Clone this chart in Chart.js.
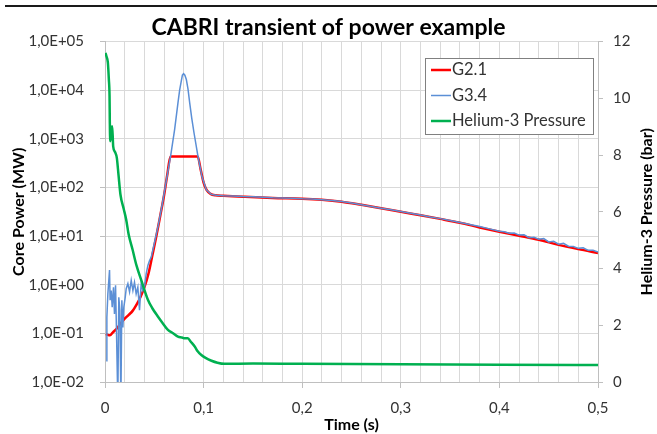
<!DOCTYPE html>
<html>
<head>
<meta charset="utf-8">
<title>CABRI transient of power example</title>
<script src="https://cdn.jsdelivr.net/npm/chart.js@4.4.0/dist/chart.umd.min.js"></script>
<style>
  body { margin: 0; background: #fff; }
  #wrap { position: relative; width: 657px; height: 434px; }
  #topLine { position: absolute; left: 5px; top: 5px; width: 652px; height: 2px; background: #1a1a1a; }
</style>
</head>
<body>
<div id="wrap">
  <canvas id="cabriChart" width="657" height="434"></canvas>
  <div id="topLine"></div>
</div>
<script>
// Values

// G2.1 core power (MW) vs time (s)
const timeG21 = [0.001, 0.003, 0.005, 0.008, 0.012, 0.016, 0.02, 0.024, 0.028, 0.032, 0.036, 0.04,
  0.044, 0.048, 0.052, 0.056, 0.06, 0.063, 0.0665, 0.094, 0.097, 0.1, 0.103, 0.107, 0.112, 0.12,
  0.14, 0.17, 0.2, 0.22, 0.24, 0.26, 0.28, 0.3, 0.32, 0.34, 0.36, 0.38, 0.4, 0.42, 0.44, 0.46, 0.48, 0.5];
const powerG21 = [0.098, 0.093, 0.091, 0.105, 0.126, 0.162, 0.2, 0.24, 0.29, 0.39, 0.56, 0.89,
  1.66, 4.0, 9.8, 26, 71, 174, 436, 436, 234, 126, 89, 74, 69, 67.6,
  64.6, 61, 59, 56, 51, 44, 37.5, 31.6, 26.9, 22.6, 18.8, 15.1, 12.3, 10.2, 8.4, 6.6, 5.4, 4.5];

// G3.4 core power (MW) vs time (s)
const timeG34 = [0.0012, 0.0019, 0.0029, 0.0046, 0.0052, 0.0063, 0.0073, 0.0086, 0.0096, 0.0107,
  0.0117, 0.013, 0.014, 0.0151, 0.0161, 0.0171, 0.0181, 0.0191, 0.0205, 0.0215, 0.0232, 0.0249,
  0.0266, 0.0283, 0.0299, 0.0316, 0.0333, 0.035, 0.0367, 0.0384, 0.0401, 0.0418, 0.0435, 0.0452,
  0.0469, 0.05, 0.054, 0.058, 0.062, 0.0665, 0.0706, 0.074, 0.0757, 0.0774, 0.0785, 0.0797, 0.081,
  0.0825, 0.0842, 0.0859, 0.088, 0.0903, 0.0943, 0.0984, 0.1028, 0.1078, 0.113, 0.12, 0.13, 0.14,
  0.15, 0.16, 0.17, 0.18, 0.19, 0.2, 0.21, 0.22, 0.23, 0.24, 0.25, 0.26, 0.27, 0.28, 0.29, 0.3,
  0.31, 0.32, 0.33, 0.34, 0.35, 0.36, 0.37, 0.38, 0.39, 0.4, 0.405, 0.41, 0.415, 0.42, 0.425,
  0.43, 0.435, 0.44, 0.445, 0.45, 0.455, 0.46, 0.465, 0.47, 0.475, 0.48, 0.485, 0.49, 0.495, 0.5];
const powerG34 = [0.0275, 0.214, 0.646, 2.0, 0.479, 0.759, 0.347, 0.891, 0.251, 0.977,
  0.098, 0.004, 0.55, 0.295, 0.004, 0.479, 0.132, 0.347, 0.55, 0.83, 1.05, 0.71,
  1.23, 0.76, 1.12, 0.65, 0.89, 0.3, 1.05, 0.76, 0.89, 1.7, 2.5, 3.16,
  3.7, 7.1, 16.6, 44.7, 132, 437, 1550, 5500, 10000, 15500, 20400, 21900, 20400,
  16600, 10500, 5500, 2630, 1320, 437, 166, 89, 72, 69, 67.6, 66.8, 65.3,
  64.6, 63.1, 61.7, 61.0, 60.3, 58.9, 58.2, 56.2, 53.7, 51.3, 47.9, 44.2, 40.7, 37.6, 34.7, 32.0,
  29.5, 27.2, 24.8, 22.9, 20.9, 19.1, 17.4, 15.7, 14.1, 12.6, 12.3, 11.5, 11.6, 10.5, 10.7,
  9.3, 9.5, 8.6, 8.9, 7.6, 7.8, 6.8, 7.1, 6.2, 6.1, 5.6, 5.75, 5.1, 5.1, 4.7];

// Helium-3 pressure (bar) vs time (s)
const timeHe = [0.0005, 0.0013, 0.0029, 0.0039, 0.0046, 0.0049, 0.0053, 0.0063, 0.0073, 0.0083,
  0.0103, 0.012, 0.0137, 0.0157, 0.019, 0.0215, 0.024, 0.028, 0.032, 0.0367, 0.0435, 0.048,
  0.0536, 0.058, 0.0638, 0.069, 0.074, 0.078, 0.0807, 0.084, 0.087, 0.091, 0.094, 0.0977, 0.102,
  0.108, 0.114, 0.121, 0.15, 0.2, 0.3, 0.4, 0.5];
const pressureHe = [11.6, 11.5, 11.26, 10.67, 10.08, 9.14, 8.49, 8.79, 9.02, 8.31,
  8.1, 7.9, 7.3, 6.6, 6.1, 5.72, 5.2, 4.66, 4.1, 3.6, 2.9, 2.6,
  2.31, 2.1, 1.84, 1.72, 1.6, 1.57, 1.54, 1.54, 1.42, 1.25, 1.08, 0.95, 0.85,
  0.75, 0.68, 0.64, 0.65, 0.64, 0.63, 0.61, 0.6];

// Axis ticks
const powerTicks = [0.01, 0.1, 1, 10, 100, 1000, 10000, 100000];
const pressureTicks = [0, 2, 4, 6, 8, 10, 12];

const toPoints = (xs, ys) => xs.map((x, i) => ({ x: x, y: ys[i] }));

const fontName = "Lato";
const textColor = "#333333";
const gridColor = "#d9d9d9";
const axisColor = "#bfbfbf";

//Legend in a framed box and the right axis title written bottom-to-top, like the Excel chart
const excelExtras = {
  id: "excelExtras",
  afterDraw(chart) {
    const ctx = chart.ctx;
    const area = chart.chartArea;
    const boxW = 168, boxH = 76;
    const x0 = Math.round(area.right - 5 - boxW), y0 = Math.round(area.top + 16);

    ctx.save();
    ctx.fillStyle = "#ffffff";
    ctx.fillRect(x0, y0, boxW, boxH);
    ctx.strokeStyle = "#808080";
    ctx.lineWidth = 1;
    ctx.strokeRect(x0 + 0.5, y0 + 0.5, boxW, boxH);

    ctx.font = "16.5px " + fontName;
    ctx.textBaseline = "middle";
    ctx.textAlign = "left";
    chart.data.datasets.forEach((ds, i) => {
      const y = y0 + 12 + i * 25.5;
      ctx.strokeStyle = ds.borderColor;
      ctx.lineWidth = ds.borderWidth;
      ctx.beginPath();
      ctx.moveTo(x0 + 6, y);
      ctx.lineTo(x0 + 26, y);
      ctx.stroke();
      ctx.fillStyle = textColor;
      ctx.fillText(ds.label, x0 + 27, y);
    });

    const right = chart.scales.y2;
    ctx.translate(right.right - 10.5, (area.top + area.bottom) / 2);
    ctx.rotate(-Math.PI / 2);
    ctx.font = "bold 16px " + fontName;
    ctx.textAlign = "center";
    ctx.fillStyle = "#000000";
    ctx.fillText("Helium-3 Pressure (bar)", 0, 0);
    ctx.restore();
  }
};

new Chart("cabriChart", {
  type: "line",
  data: {
    datasets: [
      {
        label: "G2.1",
        data: toPoints(timeG21, powerG21),
        borderColor: "#ff0000",
        borderWidth: 2.5,
        yAxisID: "y",
        cubicInterpolationMode: "monotone",
        order: 3,
      },
      {
        label: "G3.4",
        data: toPoints(timeG34, powerG34),
        borderColor: "#5b8fd6",
        borderWidth: 1.5,
        yAxisID: "y",
        tension: 0,
        order: 2,
      },
      {
        label: "Helium-3 Pressure",
        data: toPoints(timeHe, pressureHe),
        borderColor: "#00b050",
        borderWidth: 2.5,
        yAxisID: "y2",
        cubicInterpolationMode: "monotone",
        order: 1,
      },
    ],
  },
  options: {
    responsive: false,
    animation: false,
    elements: {
      point: { radius: 0 },
    },
    plugins: {
      legend: { display: false },
      tooltip: { enabled: false },
      title: {
        display: true,
        text: "CABRI transient of power example",
        color: "#000000",
        font: { family: fontName, size: 23, weight: "bold" },
        padding: { top: 14, bottom: 0 },
      },
    },
    scales: {
      x: {
        type: "linear",
        min: 0,
        max: 0.5,
        afterFit: (scale) => { scale.height = 52; },
        ticks: {
          stepSize: 0.02,
          autoSkip: false,
          maxRotation: 0,
          padding: 11,
          color: textColor,
          font: { family: fontName, size: 15 },
          callback: (v) => {
            const hundredths = Math.round(v * 100);
            if (hundredths % 10 !== 0) return "";
            return hundredths === 0 ? "0" : (hundredths / 100).toFixed(1).replace(".", ",");
          },
        },
        grid: {
          color: gridColor,
          tickLength: 6,
          tickColor: (c) => (Math.round(c.tick.value * 100) % 10 === 0 ? axisColor : "rgba(0,0,0,0)"),
        },
        border: { color: axisColor },
        title: {
          display: true,
          text: "Time (s)",
          color: "#000000",
          font: { family: fontName, size: 16, weight: "bold" },
          padding: { top: 0, bottom: 0 },
        },
      },
      y: {
        type: "logarithmic",
        position: "left",
        min: powerTicks[0],
        max: powerTicks[powerTicks.length - 1],
        afterFit: (scale) => { scale.width = 105; },
        afterBuildTicks: (scale) => { scale.ticks = powerTicks.map((v) => ({ value: v })); },
        ticks: {
          padding: 16,
          color: textColor,
          font: { family: fontName, size: 15 },
          callback: (v) => {
            const e = Math.round(Math.log10(v));
            return "1,0E" + (e < 0 ? "-" : "+") + String(Math.abs(e)).padStart(2, "0");
          },
        },
        grid: { color: gridColor, tickLength: 5, tickColor: axisColor },
        border: { color: axisColor },
        title: {
          display: true,
          text: "Core Power (MW)",
          color: "#000000",
          font: { family: fontName, size: 16, weight: "bold" },
          padding: { top: 9, bottom: 0 },
        },
      },
      y2: {
        type: "linear",
        position: "right",
        min: pressureTicks[0],
        max: pressureTicks[pressureTicks.length - 1],
        afterFit: (scale) => { scale.width = 59; },
        afterBuildTicks: (scale) => { scale.ticks = pressureTicks.map((v) => ({ value: v })); },
        ticks: {
          padding: 10,
          color: textColor,
          font: { family: fontName, size: 15 },
        },
        grid: { drawOnChartArea: false, tickLength: 5, color: axisColor },
        border: { color: axisColor },
      },
    },
  },
  plugins: [excelExtras],
});
</script>
</body>
</html>
